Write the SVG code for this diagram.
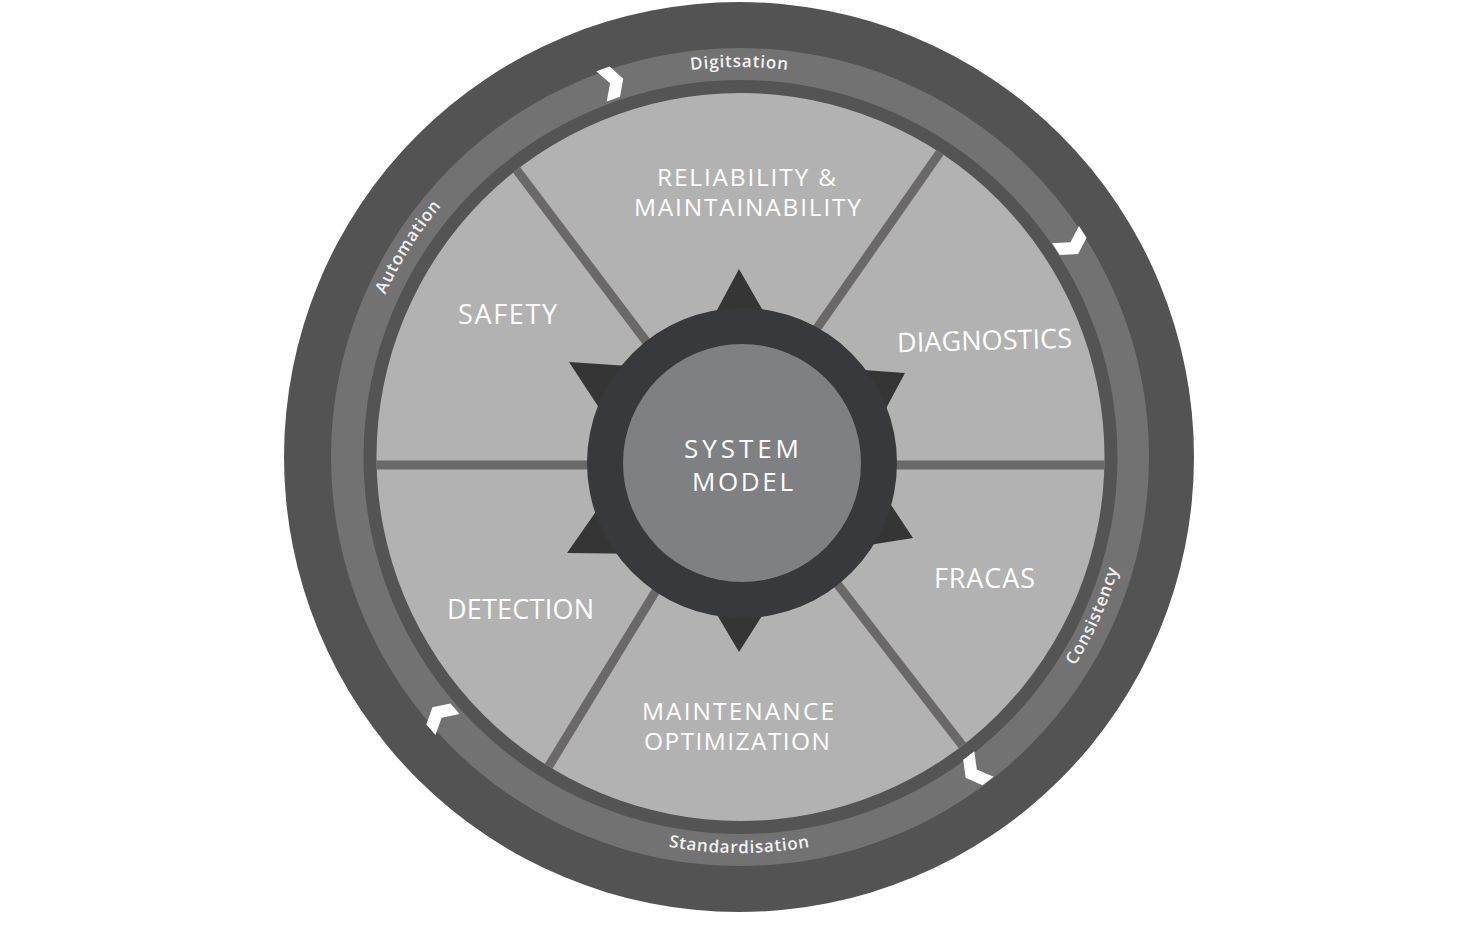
<svg xmlns="http://www.w3.org/2000/svg" width="1475" height="930" viewBox="0 0 1475 930">
<style>
.lbl{font-family:"Open Sans","Liberation Sans",sans-serif;font-size:27px;fill:#ffffff;text-anchor:middle}
.lbl2{font-family:"Open Sans","Liberation Sans",sans-serif;font-size:24.5px;fill:#ffffff;text-anchor:middle}
.hub{font-family:"Open Sans","Liberation Sans",sans-serif;font-size:26px;fill:#ffffff;text-anchor:middle}
.ring{font-family:"Open Sans","Liberation Sans",sans-serif;font-size:17px;font-weight:600;fill:#f2f2f2;letter-spacing:0.8px}
.spoke{stroke:#6a6868;stroke-width:9;fill:none}
.tooth{fill:#353535}
.chev{fill:#ffffff}
</style>
<defs>
<clipPath id="lightClip"><circle cx="740.5" cy="457" r="364"/></clipPath>
<polygon id="chevron" points="-10,-16 4,-16 13,0 4,16 -10,16 -1,0"/>
<path id="pDig" d="M401.8,262 A390,390 0 0 1 1077.2,262"/>
<path id="pAut" d="M394,637.7 A390,390 0 0 1 755.8,67.4"/>
<path id="pCon" d="M779.4,850 A395,395 0 0 0 1059.9,225.9"/>
<path id="pStd" d="M396.5,655 A396,396 0 0 0 1082.5,655"/>
</defs>
<rect width="1475" height="930" fill="#ffffff"/>
<g id="wheel">
<circle cx="739" cy="457" r="455" fill="#535353"/>
<circle cx="740" cy="457" r="409" fill="#727272"/>
<circle cx="740.5" cy="457" r="377" fill="#545454"/>
<circle cx="740.5" cy="457" r="364" fill="#b2b2b2"/>
</g>
<g id="connectors" clip-path="url(#lightClip)">
<line class="spoke" x1="655" y1="353" x2="500" y2="148"/>
<line class="spoke" x1="808" y1="341" x2="957" y2="128"/>
<line class="spoke" x1="665" y1="576" x2="536" y2="787"/>
<line class="spoke" x1="828" y1="572" x2="979" y2="767"/>
<line class="spoke" x1="360" y1="465" x2="1120" y2="465"/>
</g>
<g id="ring-labels">
<text class="ring"><textPath href="#pDig" startOffset="50%" text-anchor="middle">Digitsation</textPath></text>
<text class="ring"><textPath href="#pAut" startOffset="50%" text-anchor="middle">Automation</textPath></text>
<text class="ring"><textPath href="#pCon" startOffset="50%" text-anchor="middle">Consistency</textPath></text>
<text class="ring"><textPath href="#pStd" startOffset="50%" text-anchor="middle">Standardisation</textPath></text>
</g>
<g id="chevrons">
<use href="#chevron" class="chev" transform="translate(611,83) rotate(-19)"/>
<use href="#chevron" class="chev" transform="translate(1071,243) rotate(57)"/>
<use href="#chevron" class="chev" transform="translate(976,770) rotate(143)"/>
<use href="#chevron" class="chev" transform="translate(441,717) rotate(229)"/>
</g>
<g id="system-model">
<polygon class="tooth" points="739,269 769.8,322.5 709.8,323.5"/>
<polygon class="tooth" points="569,362 636.1,366.5 605.9,418.3"/>
<polygon class="tooth" points="905,373 879,421.6 850,369"/>
<polygon class="tooth" points="567,553 631.2,553.7 603.8,500.3"/>
<polygon class="tooth" points="913,538 858.1,546.8 882.3,491.8"/>
<polygon class="tooth" points="739,652 709.8,602.5 769.8,603.5"/>
<circle cx="742" cy="463" r="155" fill="#38393c"/>
<circle cx="742" cy="463" r="119" fill="#7f8083"/>
<text class="hub" x="741.5" y="458" textLength="115">SYSTEM</text>
<text class="hub" x="742.5" y="491" textLength="101">MODEL</text>
</g>
<g id="reliability">
<text class="lbl2" x="746.5" y="186" textLength="179">RELIABILITY &amp;</text>
<text class="lbl2" x="747.5" y="216" textLength="227">MAINTAINABILITY</text>
</g>
<g id="safety"><text class="lbl" x="507.5" y="324" textLength="99">SAFETY</text></g>
<g id="diagnostics"><text class="lbl" x="984.5" y="350" textLength="175" transform="rotate(-1.5 984.5 340)">DIAGNOSTICS</text></g>
<g id="fracas"><text class="lbl" x="984.5" y="588" textLength="101">FRACAS</text></g>
<g id="detection"><text class="lbl" x="520.5" y="619" textLength="147">DETECTION</text></g>
<g id="maintenance">
<text class="lbl2" x="738" y="720" textLength="192">MAINTENANCE</text>
<text class="lbl2" x="737" y="750" textLength="186">OPTIMIZATION</text>
</g>
</svg>
